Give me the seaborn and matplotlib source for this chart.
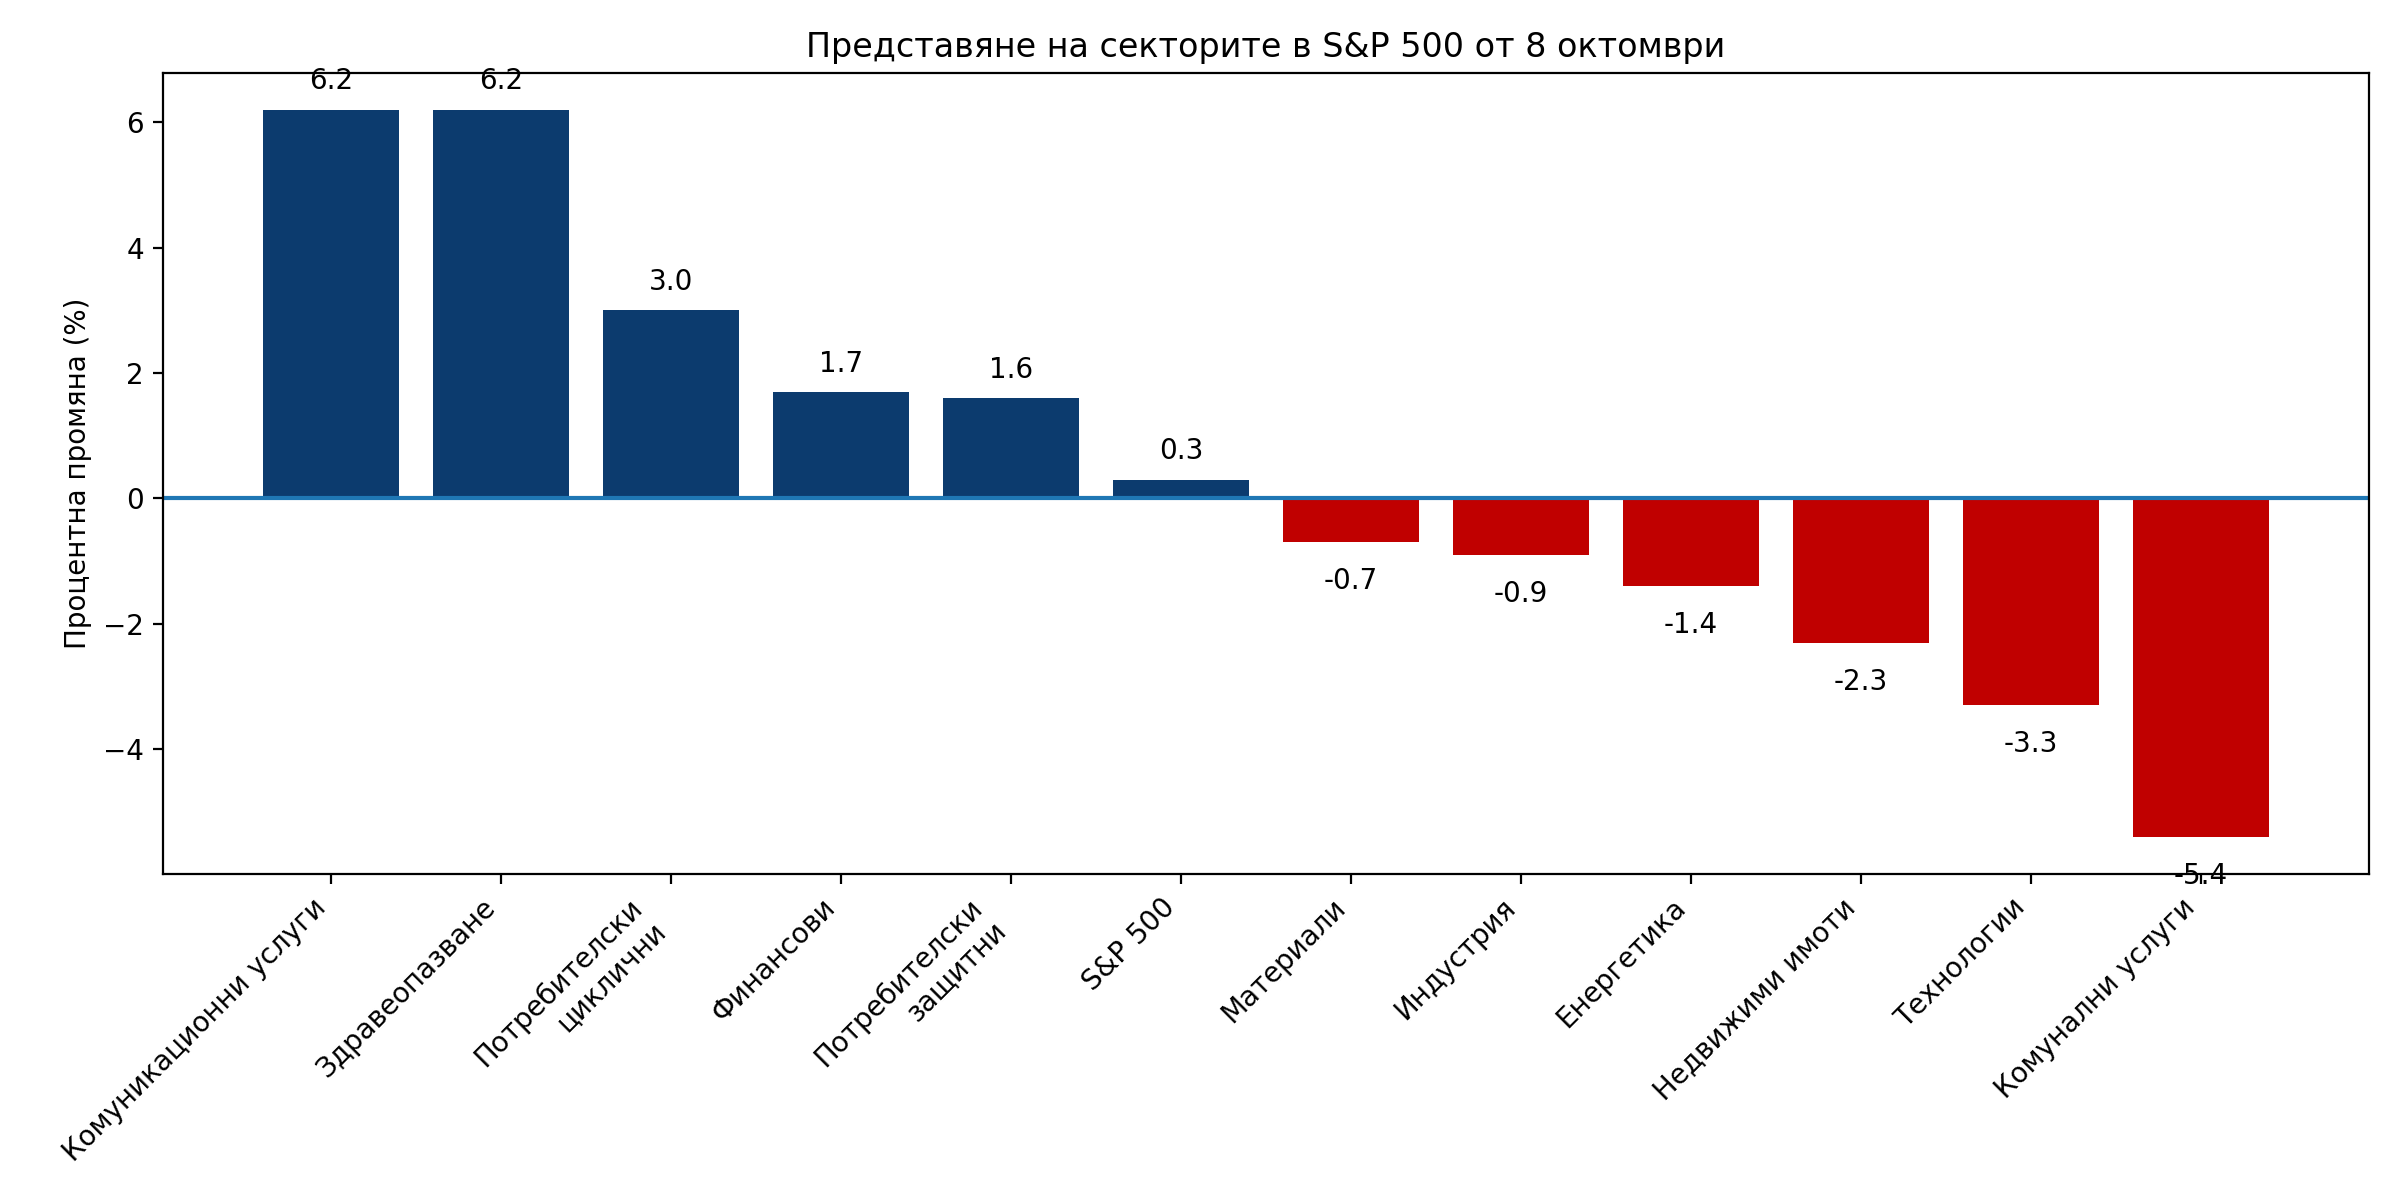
import numpy as np
import pandas as pd
import matplotlib
matplotlib.use("Agg")
import matplotlib.pyplot as plt
import seaborn as sns

sectors = ["Комуникационни услуги", "Здравеопазване", "Потребителски\nциклични",
           "Финансови", "Потребителски\nзащитни", "S&P 500", "Материали",
           "Индустрия", "Енергетика", "Недвижими имоти", "Технологии",
           "Комунални услуги"]
changes = [6.2, 6.2, 3.0, 1.7, 1.6, 0.3, -0.7, -0.9, -1.4, -2.3, -3.3, -5.4]

df = pd.DataFrame({"sector": sectors, "change": changes})
colors = ["#0c3b6e" if v > 0 else "#c00000" for v in changes]

fig, ax = plt.subplots(figsize=(12, 6), dpi=200)
sns.barplot(data=df, x="sector", y="change", hue="sector", palette=colors,
            saturation=1, legend=False, ax=ax, width=0.8)

# seaborn pins xlim, go back to matplotlib's default margins
ax.set_autoscalex_on(True)
ax.margins(x=0.05)
ax.autoscale_view()

ax.axhline(0, color="#1f77b4", linewidth=1.5)

# value labels
for i, v in enumerate(changes):
    off = 0.45 if v > 0 else -0.62
    ax.text(i, v + off, f"{v:.1f}", ha="center", va="center", fontsize=10)

ax.set_title("Представяне на секторите в S&P 500 от 8 октомври", fontsize=12)
ax.set_ylabel("Процентна промяна (%)")
ax.set_xlabel("")
plt.setp(ax.get_xticklabels(), rotation=45, ha="right")

fig.subplots_adjust(left=0.068, right=0.987, top=0.939, bottom=0.272)
fig.savefig("out.png")
